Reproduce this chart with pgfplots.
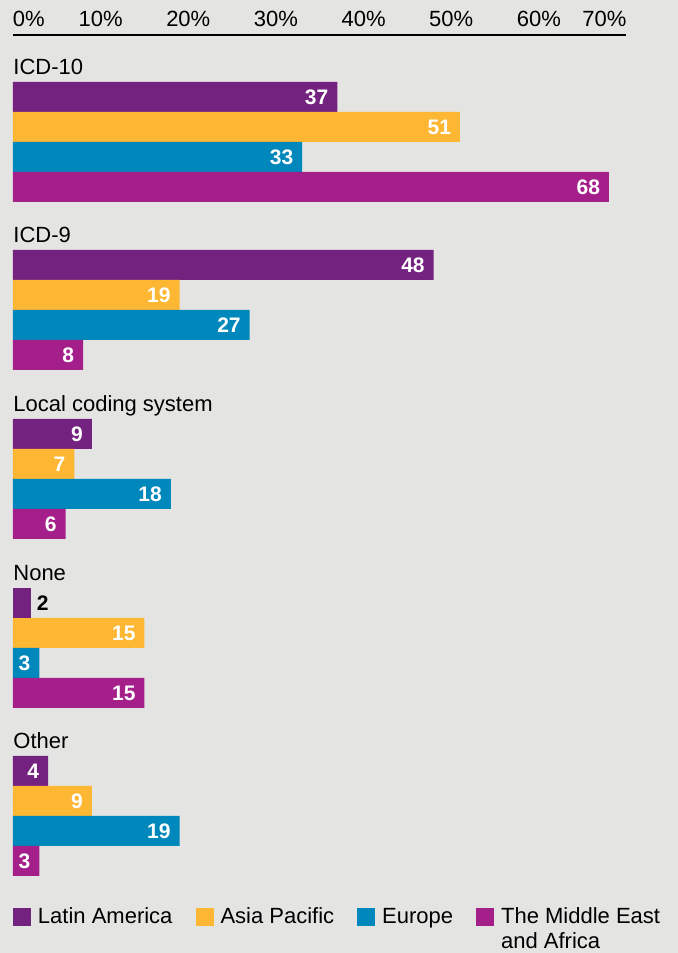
\documentclass[border=0pt]{standalone}
\usepackage{pgfplots}
\pgfplotsset{compat=1.18}
\usepackage{fontspec}
\setmainfont{Liberation Sans}
\definecolor{bgc}{RGB}{228,228,226}
\definecolor{latam}{RGB}{116,34,127}
\definecolor{apac}{RGB}{253,183,51}
\definecolor{eur}{RGB}{0,135,187}
\definecolor{mea}{RGB}{165,31,139}
\begin{document}
\begin{tikzpicture}
\fill[bgc] (-6.5pt,0pt) rectangle (332.5pt,476.5pt);
\begin{axis}[
  scale only axis, width=306.75pt, height=459pt,
  xmin=0, xmax=70, ymin=0, ymax=918,
  enlargelimits=false, clip=false,
  axis x line*=top, axis y line=none,
  x axis line style={-, line width=0.7pt, black},
  xtick={0,10,...,70},
  xticklabels={\makebox[0pt][l]{0\%},10\%,20\%,30\%,40\%,50\%,60\%,\makebox[0pt][r]{70\%}},
  major tick length=0pt,
  xticklabel style={font=\fontsize{11}{13}\selectfont, anchor=base, yshift=4pt},
  ytick=\empty,
  xbar, bar width=15pt, bar shift=0pt,
  point meta=x,
  /pgf/number format/assume math mode=true,
  nodes near coords,
  nodes near coords style={anchor=east, xshift=-4.3pt, inner sep=0pt, text=white, font=\bfseries\fontsize{10.5}{12}\selectfont},
  every axis plot/.append style={draw=none},
  legend columns=4,
  legend image code/.code={\fill[#1] (0pt,-1pt) rectangle (9pt,8pt);},
  legend style={at={(0,0.0555)}, anchor=north west, draw=none, fill=none, inner sep=0pt, outer sep=0pt,
    font=\fontsize{11}{12.5}\selectfont,
    cells={anchor=base west, inner sep=0pt},
    /tikz/every even column/.append style={column sep=9.5pt},
    /tikz/every odd column/.append style={column sep=1.5pt}},
]
% Latin America (None shown separately)
\addplot[fill=latam] coordinates {(37,856) (48,688) (9,519) (4,182)};
\addlegendentry{Latin America}
\addplot[fill=apac] coordinates {(51,826) (19,658) (7,489) (15,320) (9,152)};
\addlegendentry{Asia Pacific}
\addplot[fill=eur] coordinates {(33,796) (27,628) (18,459) (3,290) (19,122)};
\addlegendentry{Europe}
\addplot[fill=mea] coordinates {(68,766) (8,598) (6,429) (15,260) (3,92)};
\addlegendentry{\begin{tabular}[t]{@{}l@{}}The Middle East\\and Africa\end{tabular}}
\addplot[fill=latam, forget plot, nodes near coords style={anchor=west, xshift=7.3pt, text=black}] coordinates {(2,350)};

\node[anchor=base west, inner sep=0pt, font=\fontsize{11}{13}\selectfont] at (axis cs:0,878.5) {ICD-10};
\node[anchor=base west, inner sep=0pt, font=\fontsize{11}{13}\selectfont] at (axis cs:0,710.5) {ICD-9};
\node[anchor=base west, inner sep=0pt, font=\fontsize{11}{13}\selectfont] at (axis cs:0,541.5) {Local coding system};
\node[anchor=base west, inner sep=0pt, font=\fontsize{11}{13}\selectfont] at (axis cs:0,372.5) {None};
\node[anchor=base west, inner sep=0pt, font=\fontsize{11}{13}\selectfont] at (axis cs:0,204.5) {Other};
\end{axis}
\end{tikzpicture}
\end{document}
